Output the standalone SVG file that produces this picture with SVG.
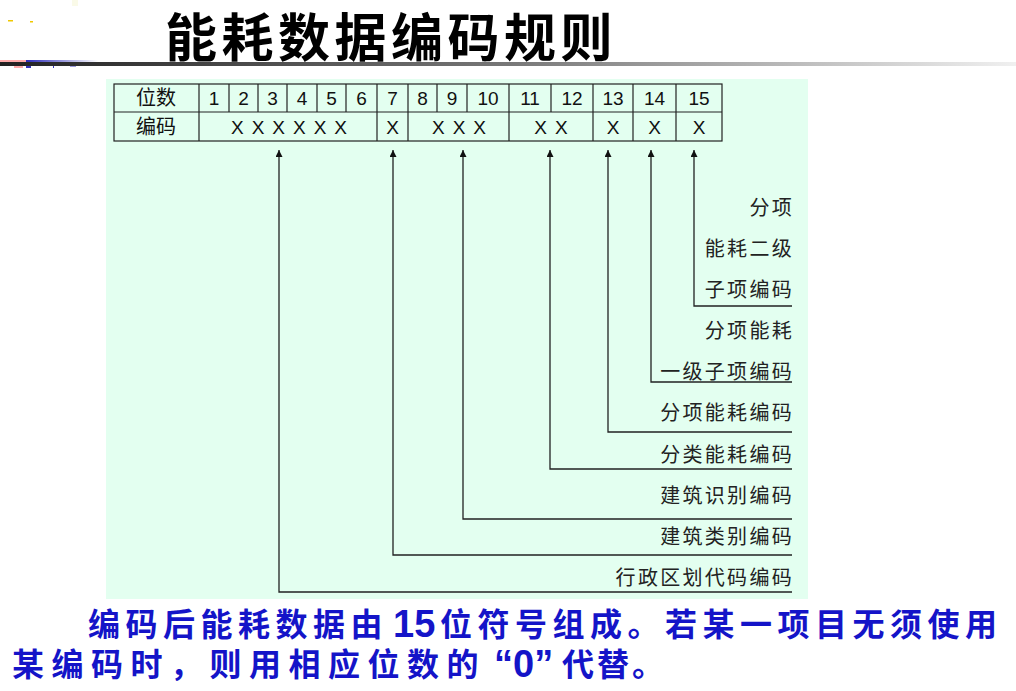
<svg xmlns="http://www.w3.org/2000/svg" width="1016" height="691" viewBox="0 0 1016 691">
<defs>
<linearGradient id="bar" x1="0" y1="0" x2="1" y2="0">
<stop offset="0" stop-color="#222"/>
<stop offset="0.5" stop-color="#777"/>
<stop offset="1" stop-color="#f0f0f0"/>
</linearGradient>
<linearGradient id="blue" x1="0" y1="0" x2="1" y2="0">
<stop offset="0" stop-color="#2a2ab8"/>
<stop offset="1" stop-color="#2a2ab8" stop-opacity="0"/>
</linearGradient>
<marker id="arr" viewBox="0 0 10 10" refX="10" refY="5" markerWidth="7" markerHeight="7" markerUnits="userSpaceOnUse" orient="auto">
<path d="M0,0 L10,5 L0,10 z" fill="#111"/>
</marker>
<style>
.cell{fill:none;stroke:#222;stroke-width:1.2}
.num{font-family:"Liberation Sans",Arial,sans-serif;font-size:19px;fill:#111;text-anchor:middle}
.cn{font-family:"Noto Sans CJK SC",sans-serif;font-size:20px;fill:#111;text-anchor:middle}
.lbl{font-family:"Noto Sans CJK SC",sans-serif;font-size:20px;fill:#222;text-anchor:end;letter-spacing:2.3px}
.con{fill:none;stroke:#222;stroke-width:1.3}
.body{font-family:"Noto Sans CJK SC",sans-serif;font-size:32px;font-weight:bold;fill:#1414c8}
.dig{font-family:"Liberation Sans",Arial,sans-serif;font-size:38px;font-weight:bold;fill:#1414c8}
</style>
</defs>
<rect width="1016" height="691" fill="#fff"/>
<!-- header decoration -->
<g id="header">
<rect x="0" y="62" width="1016" height="4" fill="url(#bar)"/>
<rect x="0" y="60" width="26" height="2" fill="#ffaaaa"/>
<rect x="26" y="60" width="72" height="2" fill="url(#blue)"/>
<rect x="14" y="66" width="9" height="2" fill="#ffaaaa"/>
<rect x="26" y="66" width="5" height="2" fill="#3333bb"/>
<rect x="53" y="66" width="1" height="2" fill="#3333bb"/>
<rect x="70" y="66" width="6" height="1" fill="#9999dd"/>
<rect x="8" y="20" width="5" height="1.5" fill="#f0c800"/>
<rect x="30" y="21" width="3" height="1.5" fill="#f0c800"/>
<rect x="72" y="0" width="6" height="6" fill="#fafae8"/>
<text x="165" y="57" font-family="Noto Sans CJK SC,sans-serif" font-size="52" font-weight="bold" fill="#000" letter-spacing="4.5">能耗数据编码规则</text>
</g>
<!-- panel -->
<rect id="panel" x="106" y="79" width="702" height="520" fill="#e3fff0"/>
<!-- table -->
<g id="table">
<rect class="cell" x="114" y="84" width="608" height="57"/>
<line class="cell" x1="114" y1="112" x2="722" y2="112"/>
<line class="cell" x1="199" y1="84" x2="199" y2="141"/>
<line class="cell" x1="229" y1="84" x2="229" y2="112"/>
<line class="cell" x1="258" y1="84" x2="258" y2="112"/>
<line class="cell" x1="287" y1="84" x2="287" y2="112"/>
<line class="cell" x1="317" y1="84" x2="317" y2="112"/>
<line class="cell" x1="346" y1="84" x2="346" y2="112"/>
<line class="cell" x1="377" y1="84" x2="377" y2="141"/>
<line class="cell" x1="408" y1="84" x2="408" y2="141"/>
<line class="cell" x1="437" y1="84" x2="437" y2="112"/>
<line class="cell" x1="467" y1="84" x2="467" y2="112"/>
<line class="cell" x1="509" y1="84" x2="509" y2="141"/>
<line class="cell" x1="551" y1="84" x2="551" y2="112"/>
<line class="cell" x1="593" y1="84" x2="593" y2="141"/>
<line class="cell" x1="633" y1="84" x2="633" y2="141"/>
<line class="cell" x1="676" y1="84" x2="676" y2="141"/>
<text class="cn" x="156" y="105">位数</text>
<text class="cn" x="156" y="134">编码</text>
<text class="num" x="214" y="105">1</text>
<text class="num" x="243.5" y="105">2</text>
<text class="num" x="272.5" y="105">3</text>
<text class="num" x="302" y="105">4</text>
<text class="num" x="331.5" y="105">5</text>
<text class="num" x="361.5" y="105">6</text>
<text class="num" x="392.5" y="105">7</text>
<text class="num" x="422.5" y="105">8</text>
<text class="num" x="452" y="105">9</text>
<text class="num" x="488" y="105">10</text>
<text class="num" x="530" y="105">11</text>
<text class="num" x="572" y="105">12</text>
<text class="num" x="613" y="105">13</text>
<text class="num" x="654.5" y="105">14</text>
<text class="num" x="699" y="105">15</text>
<text class="num" x="293" y="134" letter-spacing="8">XXXXXX</text>
<text class="num" x="392.5" y="134">X</text>
<text class="num" x="463" y="134" letter-spacing="8">XXX</text>
<text class="num" x="555" y="134" letter-spacing="8">XX</text>
<text class="num" x="613" y="134">X</text>
<text class="num" x="654.5" y="134">X</text>
<text class="num" x="699" y="134">X</text>
</g>
<!-- connectors -->
<g id="connectors">
<path class="con" d="M792 306 H694 V150" marker-end="url(#arr)"/>
<path class="con" d="M792 382 H651 V150" marker-end="url(#arr)"/>
<path class="con" d="M792 432 H608 V150" marker-end="url(#arr)"/>
<path class="con" d="M792 469 H550 V150" marker-end="url(#arr)"/>
<path class="con" d="M792 519 H463 V150" marker-end="url(#arr)"/>
<path class="con" d="M792 555 H393 V150" marker-end="url(#arr)"/>
<path class="con" d="M792 592 H279 V150" marker-end="url(#arr)"/>
</g>
<!-- labels -->
<g id="labels">
<text class="lbl" x="794" y="215">分项</text>
<text class="lbl" x="794" y="256">能耗二级</text>
<text class="lbl" x="794" y="297">子项编码</text>
<text class="lbl" x="794" y="338">分项能耗</text>
<text class="lbl" x="794" y="379">一级子项编码</text>
<text class="lbl" x="794" y="420">分项能耗编码</text>
<text class="lbl" x="794" y="462">分类能耗编码</text>
<text class="lbl" x="794" y="503">建筑识别编码</text>
<text class="lbl" x="794" y="544">建筑类别编码</text>
<text class="lbl" x="794" y="585">行政区划代码编码</text>
</g>
<!-- caption -->
<g id="caption">
<text class="body" x="88" y="636" letter-spacing="5.5">编码后能耗数据由</text>
<text class="dig" x="393" y="637">15</text>
<text class="body" x="440" y="636" letter-spacing="5.5">位符号组成。若某一项目无须使用</text>
<text class="body" x="12" y="676" letter-spacing="7.5">某编码时，则用相应位数的</text>
<text class="dig" x="494" y="677">“0”</text>
<text class="body" x="562" y="676" letter-spacing="3">代替。</text>
</g>
</svg>
